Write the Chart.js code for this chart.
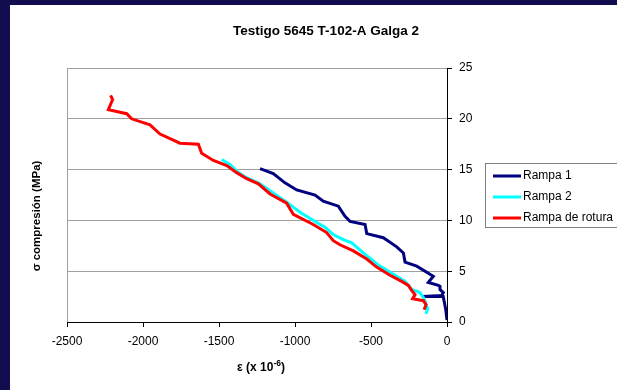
<!DOCTYPE html>
<html>
<head>
<meta charset="utf-8">
<script src="https://cdn.jsdelivr.net/npm/chart.js@4"></script>
<style>
  html, body { margin: 0; padding: 0; background: #ffffff; }
  canvas { display: block; }
</style>
</head>
<body>
<canvas id="chart" width="617" height="390"></canvas>
<script>
const chartTitle = "Testigo 5645 T-102-A Galga 2";
const xTitle = "ε (x 10";
const xTitleExp = "-6";
const yTitle = "σ compresión (MPa)";
const seriesNames = ["Rampa 1", "Rampa 2", "Rampa de rotura"];
const seriesColors = ["#000080", "#00ffff", "#ff0000"];

const xTicks = [-2500, -2000, -1500, -1000, -500, 0];
const yTicks = [0, 5, 10, 15, 20, 25];

// deformación (x 10^-6) y tensión (MPa)
const rampa1Strain = [0, -8, -18, -25, -160, -35, -24, -46, -46, -57, -123, -90, -112, -199, -276, -287, -331, -419, -528, -539, -638, -671, -715, -814, -868, -989, -1066, -1143, -1230];
const rampa1Stress = [0.2, 1.2, 2.0, 2.5, 2.5, 2.6, 2.9, 3.2, 3.5, 3.6, 3.9, 4.5, 4.7, 5.5, 5.9, 6.8, 7.4, 8.3, 8.7, 9.6, 9.9, 10.4, 11.4, 11.9, 12.5, 13.0, 13.7, 14.6, 15.1];

const rampa2Strain = [-138, -127, -151, -178, -232, -276, -353, -441, -535, -627, -682, -748, -800, -857, -967, -1055, -1143, -1230, -1318, -1373, -1428, -1482];
const rampa2Stress = [0.8, 1.3, 2.3, 2.9, 3.2, 4.0, 4.7, 5.5, 6.6, 7.8, 8.1, 8.6, 9.3, 9.8, 10.8, 11.8, 12.7, 13.6, 14.2, 14.7, 15.5, 16.0];

const roturaStrain = [-151, -138, -155, -226, -210, -232, -254, -298, -375, -463, -528, -616, -704, -748, -792, -880, -1011, -1055, -1164, -1241, -1318, -1384, -1449, -1537, -1614, -1636, -1757, -1888, -1954, -2075, -2107, -2228, -2200, -2213];
const roturaStress = [1.2, 1.7, 2.1, 2.3, 2.7, 3.1, 3.6, 4.0, 4.6, 5.4, 6.2, 7.0, 7.6, 8.0, 8.8, 9.6, 10.6, 11.7, 12.6, 13.6, 14.1, 14.7, 15.4, 15.9, 16.6, 17.5, 17.6, 18.5, 19.4, 20.0, 20.5, 20.9, 21.9, 22.3];

const FONT = "'Liberation Sans', Arial, sans-serif";

function toPoints(xs, ys) {
  return xs.map((x, i) => ({ x: x, y: ys[i] }));
}

// marco azul oscuro de la diapositiva y fondo blanco
const backgroundPlugin = {
  id: "background",
  beforeDraw(chart) {
    const { ctx, width, height } = chart;
    ctx.save();
    ctx.fillStyle = "#110d4f";
    ctx.fillRect(0, 0, width, height);
    ctx.fillStyle = "#ffffff";
    ctx.fillRect(10, 5, width - 10, height - 5);
    ctx.restore();
  },
};

// títulos y leyenda dibujados a mano para imitar la hoja de Excel
const textPlugin = {
  id: "texts",
  afterDraw(chart) {
    const { ctx, chartArea } = chart;
    ctx.save();
    ctx.fillStyle = "#000000";
    ctx.textBaseline = "middle";

    ctx.font = "bold 13.5px " + FONT;
    ctx.textAlign = "center";
    ctx.fillText(chartTitle, 326, 31);

    // título eje x con exponente
    ctx.font = "bold 12px " + FONT;
    const w1 = ctx.measureText(xTitle).width;
    ctx.font = "bold 8.5px " + FONT;
    const w2 = ctx.measureText(xTitleExp).width;
    ctx.font = "bold 12px " + FONT;
    const w3 = ctx.measureText(")").width;
    const cx = (chartArea.left + chartArea.right) / 2 + 4;
    let x = cx - (w1 + w2 + w3) / 2;
    const y = 368;
    ctx.textAlign = "left";
    ctx.fillText(xTitle, x, y);
    x += w1;
    ctx.font = "bold 8.5px " + FONT;
    ctx.fillText(xTitleExp, x, y - 4);
    x += w2;
    ctx.font = "bold 12px " + FONT;
    ctx.fillText(")", x, y);

    // título eje y
    ctx.save();
    ctx.translate(37, 216);
    ctx.rotate(-Math.PI / 2);
    ctx.textAlign = "center";
    ctx.font = "bold 11.5px " + FONT;
    ctx.fillText(yTitle, 0, 0);
    ctx.restore();

    // leyenda
    ctx.strokeStyle = "#808080";
    ctx.lineWidth = 1;
    ctx.strokeRect(485.5, 163.5, 140, 64);
    ctx.font = "12px " + FONT;
    ctx.textAlign = "left";
    seriesNames.forEach((name, i) => {
      const ly = 176 + i * 21;
      ctx.strokeStyle = seriesColors[i];
      ctx.lineWidth = 3;
      ctx.beginPath();
      ctx.moveTo(493, ly);
      ctx.lineTo(521, ly);
      ctx.stroke();
      ctx.fillStyle = "#000000";
      ctx.fillText(name, 523, ly);
    });
    ctx.restore();
  },
};

const seriesPoints = [
  toPoints(rampa1Strain, rampa1Stress),
  toPoints(rampa2Strain, rampa2Stress),
  toPoints(roturaStrain, roturaStress),
];

new Chart(document.getElementById("chart"), {
  type: "scatter",
  data: {
    datasets: seriesNames.map((name, i) => ({
      label: name,
      data: seriesPoints[i],
      showLine: true,
      borderColor: seriesColors[i],
      backgroundColor: seriesColors[i],
      borderWidth: 3,
      pointRadius: 0,
      tension: 0,
      order: seriesNames.length - i,
    })),
  },
  options: {
    responsive: false,
    animation: false,
    layout: { padding: { left: 67, top: 68, right: 0, bottom: 0 } },
    plugins: {
      legend: { display: false },
      title: { display: false },
      tooltip: { enabled: false },
    },
    scales: {
      x: {
        type: "linear",
        position: "bottom",
        min: xTicks[0],
        max: xTicks[xTicks.length - 1],
        afterFit: (scale) => { scale.height = 68; },
        afterBuildTicks: (scale) => { scale.ticks = xTicks.map((v) => ({ value: v })); },
        ticks: {
          color: "#000000",
          font: { family: FONT, size: 12 },
          padding: 7,
          maxRotation: 0,
          callback: (v) => String(v),
        },
        grid: {
          color: (c) => (c.tick && c.tick.value === xTicks[0] ? "#a0a0a0" : "rgba(0,0,0,0)"),
          tickColor: "#000000",
          tickLength: 5,
        },
        border: { color: "#000000", width: 1 },
      },
      y: {
        type: "linear",
        position: "right",
        min: yTicks[0],
        max: yTicks[yTicks.length - 1],
        afterFit: (scale) => { scale.width = 170; },
        afterBuildTicks: (scale) => { scale.ticks = yTicks.map((v) => ({ value: v })); },
        ticks: {
          color: "#000000",
          font: { family: FONT, size: 12 },
          padding: 7,
          callback: (v) => String(v),
        },
        grid: {
          color: (c) => (c.tick && c.tick.value === yTicks[0] ? "rgba(0,0,0,0)" : "#a0a0a0"),
          tickColor: "#000000",
          tickLength: 5,
        },
        border: { color: "#000000", width: 1 },
      },
    },
  },
  plugins: [backgroundPlugin, textPlugin],
});
</script>
</body>
</html>
